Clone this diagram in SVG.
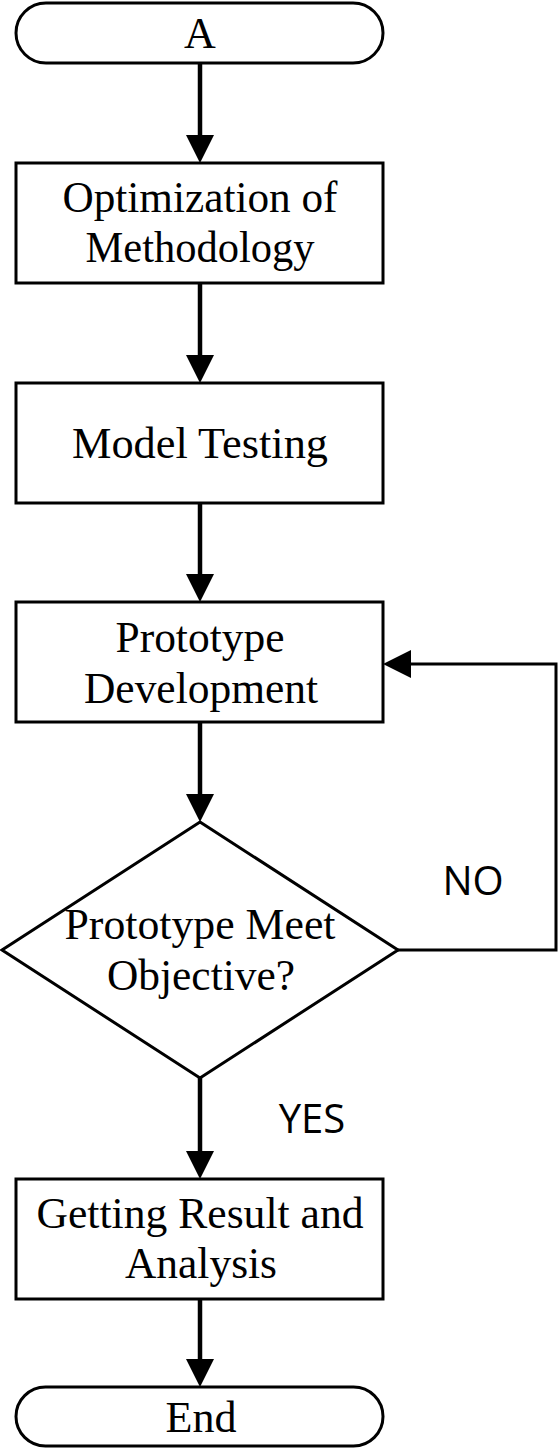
<svg xmlns="http://www.w3.org/2000/svg" width="558" height="1448" viewBox="0 0 558 1448">
<style>
.shape{fill:#ffffff;stroke:#000000;stroke-width:3}
.lbl{font-family:"Liberation Serif","Times New Roman",serif;font-size:44px;fill:#000000;text-anchor:middle}
.edge{font-family:"Open Sans","DejaVu Sans",sans-serif;font-size:40px;fill:#000000;text-anchor:middle}
.flow{fill:none;stroke:#000000;stroke-width:4.5}
.loop{fill:none;stroke:#000000;stroke-width:3}
</style>
<defs>
<marker id="arrow" viewBox="0 0 28 28" markerWidth="28" markerHeight="28" refX="18" refY="14" orient="auto" markerUnits="userSpaceOnUse">
<path d="M0,0 L28,14 L0,28 Z" fill="#000000"/>
</marker>
</defs>
<rect width="558" height="1448" fill="#ffffff"/>
<g id="connectors">
<path class="flow" d="M200,63 V153" marker-end="url(#arrow)"/>
<path class="flow" d="M200,283 V373" marker-end="url(#arrow)"/>
<path class="flow" d="M200,503 V592" marker-end="url(#arrow)"/>
<path class="flow" d="M200,722 V812" marker-end="url(#arrow)"/>
<path class="flow" d="M200,1078 V1169" marker-end="url(#arrow)"/>
<path class="flow" d="M200,1299 V1377" marker-end="url(#arrow)"/>
<path class="loop" d="M398,950 H556 V664 H393" marker-end="url(#arrow)"/>
<text class="edge" x="473" y="895">NO</text>
<text class="edge" x="312" y="1133">YES</text>
</g>
<g id="start">
<rect class="shape" x="16" y="3" width="367" height="60" rx="30" ry="30"/>
<text class="lbl" x="200" y="48">A</text>
</g>
<g id="optimization">
<rect class="shape" x="16" y="163" width="367" height="120"/>
<text class="lbl" x="200" y="212" textLength="275" lengthAdjust="spacingAndGlyphs">Optimization of</text>
<text class="lbl" x="200" y="262" textLength="229" lengthAdjust="spacingAndGlyphs">Methodology</text>
</g>
<g id="model-testing">
<rect class="shape" x="16" y="383" width="367" height="120"/>
<text class="lbl" x="200" y="458" textLength="256" lengthAdjust="spacingAndGlyphs">Model Testing</text>
</g>
<g id="prototype-development">
<rect class="shape" x="16" y="602" width="367" height="120"/>
<text class="lbl" x="200" y="652" textLength="169" lengthAdjust="spacingAndGlyphs">Prototype</text>
<text class="lbl" x="201" y="703" textLength="234" lengthAdjust="spacingAndGlyphs">Development</text>
</g>
<g id="decision">
<polygon class="shape" points="200,822 398,950 200,1078 2,950"/>
<text class="lbl" x="200" y="939" textLength="271" lengthAdjust="spacingAndGlyphs">Prototype Meet</text>
<text class="lbl" x="201" y="990" textLength="188" lengthAdjust="spacingAndGlyphs">Objective?</text>
</g>
<g id="result">
<rect class="shape" x="16" y="1179" width="367" height="120"/>
<text class="lbl" x="200" y="1228" textLength="327" lengthAdjust="spacingAndGlyphs">Getting Result and</text>
<text class="lbl" x="201" y="1278" textLength="152" lengthAdjust="spacingAndGlyphs">Analysis</text>
</g>
<g id="end">
<rect class="shape" x="16" y="1387" width="367" height="59" rx="29.5" ry="29.5"/>
<text class="lbl" x="201" y="1432" textLength="71" lengthAdjust="spacingAndGlyphs">End</text>
</g>
</svg>
